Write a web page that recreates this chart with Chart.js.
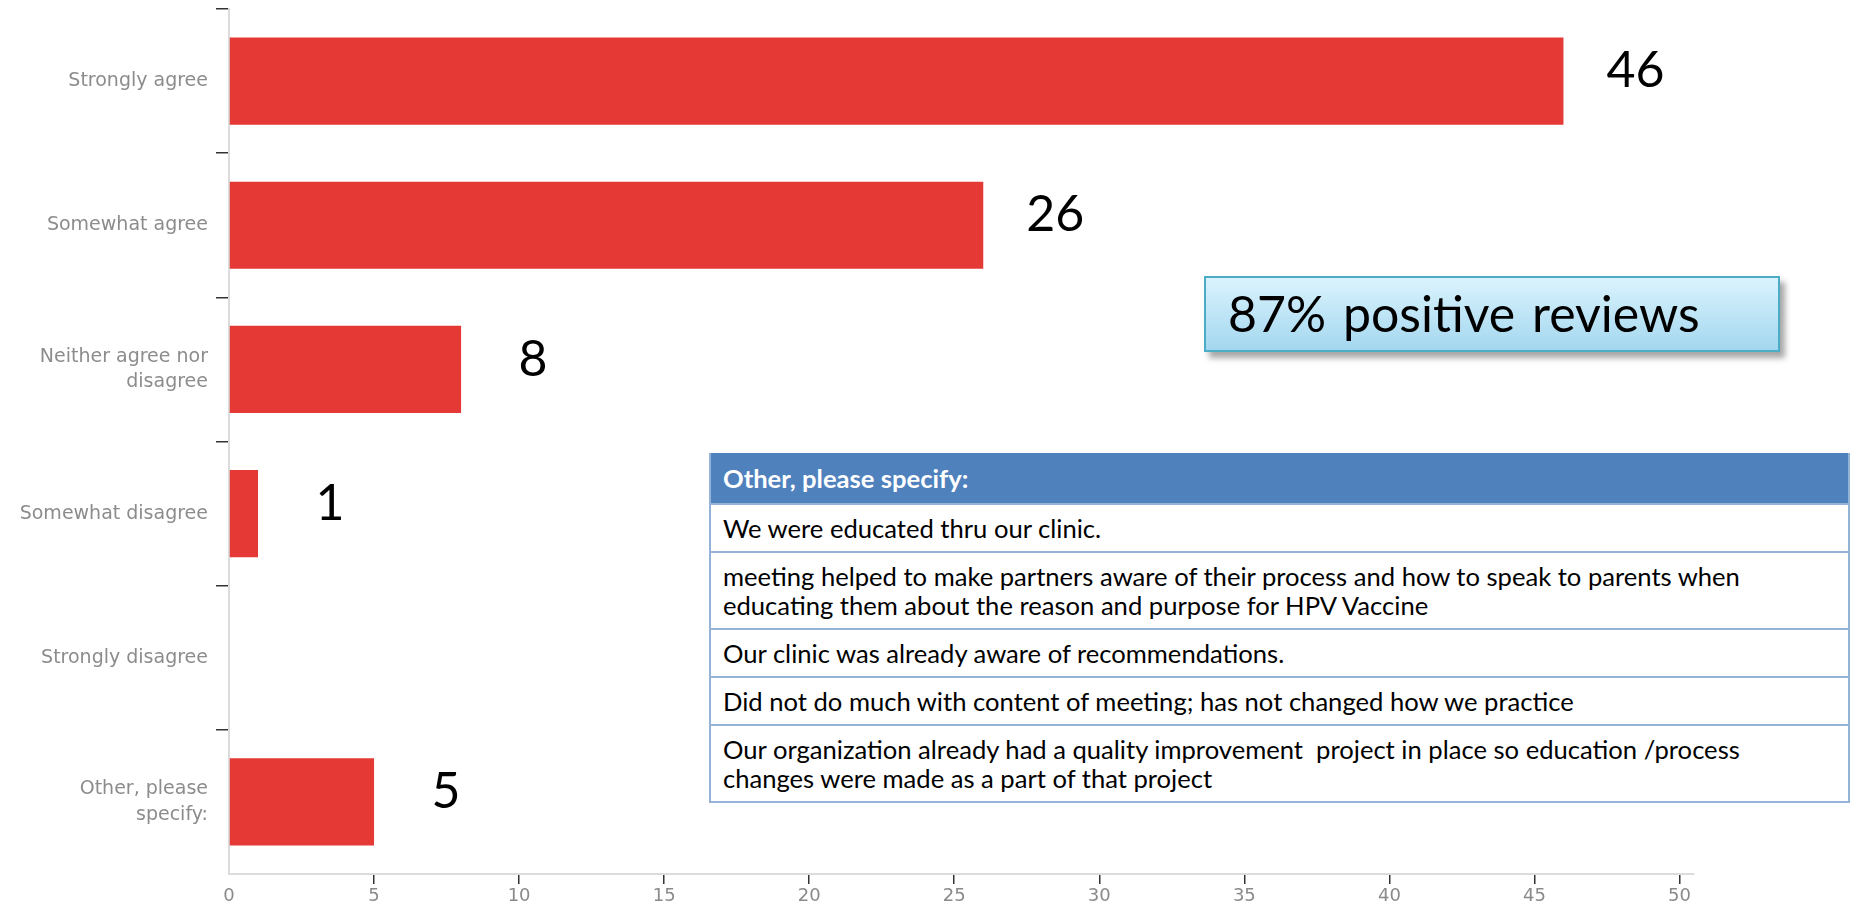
<!DOCTYPE html>
<html>
<head>
<meta charset="utf-8">
<script src="https://cdn.jsdelivr.net/npm/chart.js@4.4.1/dist/chart.umd.min.js"></script>
<style>
  body { margin: 0; background: #fff; }
  #wrap { position: relative; width: 1851px; height: 910px; overflow: hidden; }
  #wrap canvas { position: absolute; left: 0; top: 0; }
  #summary {
    position: absolute; left: 1204px; top: 276px; width: 576px; height: 76px;
    box-sizing: border-box; border: 2px solid #4bacc6;
    background: linear-gradient(#daf3fd, #a4d7ef);
    box-shadow: 5px 6px 6px rgba(0,0,0,0.35);
    font-family: Lato, sans-serif; font-size: 50px; line-height: 70px;
    padding-left: 22px; color: #000; word-spacing: 4px;
  }
  #other {
    position: absolute; left: 709px; top: 453px; width: 1141px;
    box-sizing: border-box; border: 2px solid #95b3d7; border-top: none;
    font-family: Lato, sans-serif; font-size: 25.6px; line-height: 29px; color: #000;
    background: #fff;
  }
  #other .head { background: #4f81bd; color: #fff; font-weight: bold; padding: 11px 12px 10px; }
  #other .row { border-top: 2px solid #95b3d7; padding: 9px 34px 8px 12px; white-space: pre-wrap; }
</style>
</head>
<body>
<div id="wrap">
  <canvas id="barChart"></canvas>
  <div id="summary"></div>
  <div id="other"></div>
</div>
<script>

var categories = ["Strongly agree", "Somewhat agree", ["Neither agree nor", "disagree"],
                  "Somewhat disagree", "Strongly disagree", ["Other, please", "specify:"]];
var counts = [46, 26, 8, 1, 0, 5];
var xTickValues = [0, 5, 10, 15, 20, 25, 30, 35, 40, 45, 50];
var summaryText = "87% positive reviews";
var otherTitle = "Other, please specify:";
var otherResponses = [
  "We were educated thru our clinic.",
  "meeting helped to make partners aware of their process and how to speak to parents when educating them about the reason and purpose for HPV Vaccine",
  "Our clinic was already aware of recommendations.",
  "Did not do much with content of meeting; has not changed how we practice",
  "Our organization already had a quality improvement  project in place so education /process changes were made as a part of that project"
];

document.getElementById("summary").textContent = summaryText;
var box = document.getElementById("other");
var head = document.createElement("div");
head.className = "head";
head.textContent = otherTitle;
box.appendChild(head);
otherResponses.forEach(function(t) {
  var r = document.createElement("div");
  r.className = "row";
  r.textContent = t;
  box.appendChild(r);
});

// numbers next to each bar
var valueLabels = {
  id: "valueLabels",
  afterDatasetsDraw: function(chart) {
    var ctx = chart.ctx;
    var meta = chart.getDatasetMeta(0);
    ctx.save();
    ctx.font = "50px Lato";
    ctx.fillStyle = "#000";
    ctx.textAlign = "center";
    ctx.textBaseline = "middle";
    meta.data.forEach(function(bar, i) {
      if (!counts[i]) return;
      ctx.fillText(String(counts[i]), bar.x + 72, bar.y - 10);
    });
    ctx.restore();
  }
};

var canvas = document.getElementById("barChart");
canvas.width = 1851;
canvas.height = 910;
var ctx = canvas.getContext("2d");

new Chart(ctx, {
  type: "bar",
  data: {
    labels: categories,
    datasets: [{
      data: counts,
      backgroundColor: "#e53935",
      borderWidth: 0,
      barPercentage: 0.605,
      categoryPercentage: 1
    }]
  },
  options: {
    indexAxis: "y",
    responsive: false,
    animation: false,
    layout: { padding: { left: 0, top: 9, right: 157, bottom: 0 } },
    plugins: { legend: { display: false }, tooltip: { enabled: false } },
    scales: {
      x: {
        min: 0,
        max: xTickValues[xTickValues.length - 1] + 0.5,
        afterBuildTicks: function(scale) {
          scale.ticks = xTickValues.map(function(v) { return { value: v }; });
        },
        afterFit: function(scale) { scale.height = 36; scale.paddingLeft = 0; scale.paddingRight = 0; },
        ticks: { color: "#8a8a8a", padding: 2, font: { family: "DejaVu Sans", size: 18 } },
        grid: {
          drawOnChartArea: false, drawTicks: true, tickLength: 10, lineWidth: 1.5,
          color: function(c) { return (c.tick && c.tick.value > 0) ? "#333" : "rgba(0,0,0,0)"; }
        },
        border: { color: "#dcdcdc", width: 2 }
      },
      y: {
        afterFit: function(scale) { scale.width = 229; scale.paddingTop = 0; scale.paddingBottom = 0; },
        ticks: { color: "#8c8c8c", padding: 8, font: { family: "DejaVu Sans", size: 19, lineHeight: 1.35 } },
        grid: {
          drawOnChartArea: false, drawTicks: true, tickLength: 13, lineWidth: 1.5, offset: true,
          color: function(c) { return c.type === "tick" ? "#333" : "rgba(0,0,0,0)"; }
        },
        border: { color: "#dcdcdc", width: 2 }
      }
    }
  },
  plugins: [valueLabels]
});
</script>
</body>
</html>
